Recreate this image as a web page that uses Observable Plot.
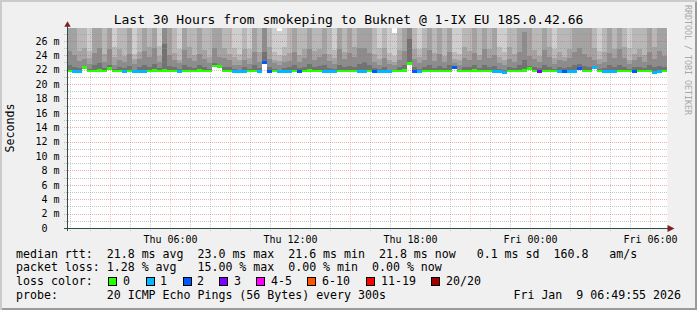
<!DOCTYPE html>
<html><head><meta charset="utf-8">
<script src="https://cdn.jsdelivr.net/npm/d3@7"></script>
<script src="https://cdn.jsdelivr.net/npm/@observablehq/plot@0.6"></script>
<style>
html,body{margin:0;padding:0;background:#f0f0f0;}
#chart{position:relative;width:697px;height:310px;background:#f0f0f0;overflow:hidden;font-family:"DejaVu Sans Mono",monospace;color:#000;}
#chart .shade{position:absolute;left:0;top:0;width:697px;height:310px;box-shadow:inset 2px 2px 0 #cbcbcb, inset -2px -2px 0 #9a9a9a;}
#chart svg{position:absolute;left:0;top:0;}
.t{position:absolute;white-space:pre;line-height:1;font-size:11.6px;}
.box{position:absolute;width:9px;height:9px;box-sizing:border-box;border:1px solid #000;}
</style>
</head><body><div id="chart"><div class="shade"></div></div>
<script>
// ---- data (15-minute columns, 30 hours) ----
const medianRtt = [
21.8,21.7,21.7,22.3,21.8,21.8,21.9,21.8,22.2,21.8,
21.8,21.7,21.8,21.7,21.7,21.7,21.8,21.9,21.8,21.9,
21.8,21.8,21.7,21.8,21.8,21.8,21.9,21.8,21.8,22.5,
22.4,21.8,21.8,21.7,21.7,21.7,21.8,21.8,21.7,23.0,
21.7,21.8,21.7,21.7,21.7,21.8,21.7,21.8,21.9,21.8,
21.8,21.7,21.7,21.7,21.8,21.8,21.8,21.8,21.7,21.7,
21.8,21.7,21.7,21.7,21.7,21.8,21.8,21.9,22.8,21.7,
21.7,21.8,21.8,21.8,21.8,21.8,21.8,22.3,21.8,21.8,
21.8,21.9,21.8,21.8,21.8,21.7,21.7,21.6,21.8,21.8,
21.8,21.9,22.1,21.8,21.7,21.8,21.8,21.8,21.7,21.7,
21.7,21.7,22.2,21.8,21.8,22.3,21.8,21.7,21.7,21.7,
21.8,21.8,21.8,21.7,21.8,21.8,21.8,21.6,21.7,21.8];
const lostPings = [
0,1,1,0,0,0,0,0,0,0,
0,1,0,1,1,1,0,0,0,0,
0,0,1,0,0,0,0,0,0,0,
0,0,0,1,1,1,0,0,1,2,
2,0,1,1,1,0,2,0,0,0,
0,1,1,1,0,0,0,0,1,1,
0,2,1,1,1,0,0,0,0,2,
1,0,0,0,0,0,0,2,0,0,
0,0,0,0,0,1,1,1,0,0,
0,0,0,0,3,0,0,0,1,2,
1,1,2,0,0,1,0,1,1,1,
0,0,0,2,0,0,0,1,1,0];
// sorted ping ranks (upper half of 20 pings), ms
const ping20 = [
33.1,34.0,30.6,31.2,29.4,32.5,35.2,30.9,33.8,29.1,
31.5,30.2,33.0,28.9,31.8,32.7,30.4,34.6,29.6,36.0,
32.2,30.8,29.3,33.4,31.0,30.5,32.9,31.3,30.7,34.1,
32.6,31.1,30.3,29.2,28.8,31.6,29.5,33.2,30.9,35.5,
31.4,28.7,27.3,29.0,30.6,32.4,31.2,30.1,33.6,30.8,
31.7,32.8,30.4,29.3,33.1,31.0,32.3,30.5,33.9,34.2,
32.1,30.7,29.4,31.5,28.9,27.1,30.9,32.6,37.0,31.2,
29.2,30.6,33.3,31.4,32.5,30.3,32.0,29.6,28.8,31.1,
30.8,33.5,31.3,32.2,30.5,33.0,29.1,28.9,31.6,30.4,
32.7,35.8,33.2,31.0,30.2,32.4,30.9,29.5,31.3,30.6,
30.1,33.4,34.0,32.8,33.1,31.2,29.3,30.7,32.9,31.5,
33.6,30.4,29.2,31.8,30.5,31.1,32.3,30.8,33.5,32.0];
const ping18 = [
30.2,31.0,28.9,29.4,24.6,29.7,31.8,28.4,30.5,25.1,
29.0,28.6,30.1,24.2,29.3,29.9,28.7,31.4,25.3,33.5,
29.8,28.5,24.8,30.4,29.1,28.8,30.0,29.2,28.3,31.2,
29.6,28.9,28.4,25.0,24.1,29.5,24.9,30.3,28.7,32.4,
29.2,24.4,24.0,25.2,28.6,30.7,29.0,28.5,31.1,28.8,
29.4,30.0,28.6,24.7,30.6,28.9,29.7,28.4,31.0,31.5,
29.9,28.7,25.0,29.1,24.3,23.9,28.8,30.2,34.0,29.0,
24.8,28.4,30.5,29.3,29.8,28.5,30.1,24.5,24.2,28.9,
28.6,30.9,29.0,29.6,28.7,30.3,25.1,24.4,29.4,28.5,
30.0,32.8,30.6,28.8,28.4,29.9,28.7,24.9,29.2,28.6,
28.5,30.8,31.2,30.1,30.4,29.0,24.6,28.9,30.2,29.3,
30.9,28.6,25.0,29.5,28.7,29.1,29.8,28.8,30.7,29.6];
const ping16 = [
28.4,29.1,24.6,25.0,23.6,28.2,29.6,24.1,28.7,23.8,
24.9,23.9,28.3,23.5,24.4,28.5,25.2,29.3,23.9,31.0,
28.6,24.3,23.4,28.9,25.1,24.0,28.4,24.7,23.8,29.0,
28.2,25.0,24.2,23.7,23.3,24.8,23.6,28.8,24.5,30.2,
25.1,23.4,23.2,23.9,24.3,28.7,24.0,24.9,29.2,24.6,
24.8,28.3,24.1,23.6,28.9,24.4,28.5,25.2,29.4,29.1,
28.2,24.2,23.5,25.0,23.3,23.1,24.7,28.6,31.5,24.8,
23.7,25.0,28.8,24.3,28.3,23.9,28.9,23.5,23.4,25.1,
24.6,28.4,24.0,28.7,24.9,28.2,23.8,23.3,25.2,24.2,
28.5,30.6,28.3,24.7,23.9,28.9,25.1,23.6,24.4,23.8,
24.9,28.6,29.2,28.4,28.8,25.0,23.5,24.5,28.5,24.8,
28.7,25.2,23.4,24.1,24.9,24.0,28.3,25.1,28.6,28.4];
const ping14 = [
24.6,24.0,23.2,23.5,22.8,24.3,25.0,23.0,24.8,22.7,
23.4,23.0,24.2,22.8,23.5,24.6,23.7,25.0,23.0,29.4,
24.0,23.3,22.9,24.7,23.6,23.2,24.1,23.5,22.9,25.0,
23.8,23.6,23.4,22.7,22.6,23.3,22.8,24.4,23.1,28.6,
23.5,22.9,22.6,23.0,23.2,24.5,23.0,23.6,24.9,23.4,
23.7,24.1,23.2,22.8,24.8,23.5,24.3,23.8,25.0,25.0,
24.3,23.1,22.7,23.6,22.8,22.6,23.3,24.6,29.8,23.5,
22.9,23.4,24.7,23.2,24.2,23.0,24.5,22.9,22.7,23.6,
23.3,24.3,23.4,24.8,23.6,24.0,22.9,22.6,23.5,23.1,
24.4,27.2,23.9,23.5,23.0,24.7,23.7,22.8,23.3,23.2,
23.6,24.5,25.0,24.1,23.8,23.4,22.8,23.1,24.3,23.6,
24.8,23.6,22.8,23.3,23.7,23.1,24.4,23.5,24.6,23.9];
const ping12 = [
22.6,22.4,22.2,22.5,22.1,22.7,22.9,22.2,22.6,22.1,
22.3,22.2,22.5,22.0,22.4,22.6,22.3,22.8,22.2,25.6,
22.5,22.3,22.1,22.7,22.4,22.2,22.6,22.3,22.1,22.9,
22.6,22.4,22.3,22.1,22.0,22.3,22.1,22.7,22.2,24.4,
22.3,22.1,22.0,22.2,22.3,22.6,22.2,22.4,22.8,22.3,
22.5,22.6,22.2,22.1,22.7,22.3,22.5,22.4,22.8,23.0,
22.6,22.2,22.1,22.4,22.0,22.0,22.3,22.6,26.2,22.4,
22.1,22.3,22.7,22.2,22.5,22.2,22.6,22.1,22.0,22.4,
22.3,22.6,22.2,22.7,22.4,22.5,22.1,22.0,22.3,22.2,
22.6,23.4,22.5,22.3,22.2,22.6,22.4,22.1,22.3,22.2,
22.4,22.6,22.8,22.5,22.4,22.3,22.1,22.2,22.6,22.3,
22.7,22.4,22.1,22.3,22.4,22.2,22.6,22.3,22.5,22.4];
const lossLabels = ["0","1","2","3","4-5","6-10","11-19","20/20"];
const yTicks = [0,2,4,6,8,10,12,14,16,18,20,22,24,26];
const xTickTimes = ["2026-01-08T06:00Z","2026-01-08T12:00Z","2026-01-08T18:00Z","2026-01-09T00:00Z","2026-01-09T06:00Z"];
const xTickLabels = ["Thu 06:00","Thu 12:00","Thu 18:00","Fri 00:00","Fri 06:00"];
const titleText = "Last 30 Hours from smokeping to Buknet @ 1-IX EU 185.0.42.66";
const legendRows = [
  "median rtt:  21.8 ms avg  23.0 ms max  21.6 ms min  21.8 ms now   0.1 ms sd  160.8   am/s",
  "packet loss: 1.28 % avg   15.00 % max  0.00 % min  0.00 % now",
  "loss color:",
  "probe:       20 ICMP Echo Pings (56 Bytes) every 300s"
];
const stampText = "Fri Jan  9 06:49:55 2026";

// ---- styling ----
const lossColors = ["#26ff00","#00b8ff","#0059ff","#7e00ff","#ff00ff","#ff5500","#ff0000","#a10000"];
const smokeBands = [["p20","#cecece"],["p18","#b8b8b8"],["p16","#a3a3a3"],["p14","#8c8c8c"],["p12","#727272"]];

const MIN = 60000, HOUR = 3600000, STEP = 15*MIN;
const t0 = Date.UTC(2026,0,8,0,51);
const xStart = new Date(t0), xEnd = new Date(t0 + 30*HOUR);
const yMax = 200/7.2;

function lossBucket(n){
  if (n===0) return "0"; if (n===1) return "1"; if (n===2) return "2"; if (n===3) return "3";
  if (n<=5) return "4-5"; if (n<=10) return "6-10"; if (n<=19) return "11-19"; return "20/20";
}
const rows = medianRtt.map((m,i)=>({
  t1:new Date(t0+i*STEP), t2:new Date(t0+(i+1)*STEP), median:m, loss:lossBucket(lostPings[i]),
  p20:ping20[i], p18:ping18[i], p16:ping16[i], p14:ping14[i], p12:ping12[i]
}));
const hours = d3.utcHours(xStart, xEnd);
const minorH = hours.filter(d=>d.getUTCHours()%3!==0);
const majorH = hours.filter(d=>d.getUTCHours()%3===0);
const minorV = d3.range(1,28).filter(v=>v%2===1);
const majorV = d3.range(2,28,2);
const tickDates = xTickTimes.map(s=>new Date(s));
const leftExt = new Date(t0 - 9*MIN);

const grid = (data, dir, color, op) => dir==="x"
  ? Plot.ruleX(data, {y1:-0.42, y2:yMax, stroke:color, strokeOpacity:op, strokeDasharray:"1,1"})
  : Plot.ruleY(data, {x1:leftExt, x2:xEnd, stroke:color, strokeOpacity:op, strokeDasharray:"1,1", shapeRendering:"crispEdges"});

const rightArrow = {draw(ctx){ ctx.moveTo(-3,-3.5); ctx.lineTo(4,0); ctx.lineTo(-3,3.5); ctx.closePath(); }};

const svg = Plot.plot({
  width:697, height:310,
  marginLeft:67, marginRight:30, marginTop:28, marginBottom:82,
  style:{background:"none", fontFamily:'"DejaVu Sans Mono", monospace', fontSize:"10px", color:"#000", overflow:"visible"},
  x:{type:"utc", domain:[xStart,xEnd], ticks:tickDates, tickFormat:(d)=>xTickLabels[tickDates.findIndex(t=>+t===+d)], tickSize:0, tickPadding:7, label:null},
  y:{domain:[0,yMax], ticks:yTicks, tickFormat:v=> v===0 ? "0\u00a0\u00a0" : `${v} m`, tickSize:0, tickPadding:8, label:null},
  color:{type:"ordinal", domain:lossLabels, range:lossColors},
  marks:[
    Plot.frame({fill:"white", stroke:"none"}),
    ...smokeBands.map(([k,c])=>Plot.rect(rows,{x1:"t1", x2:"t2", y1:d=>d.median-0.1, y2:k, fill:c, clip:true, shapeRendering:"crispEdges"})),
    grid(minorH,"x","#8f8f8f",0.45),
    grid(minorV,"y","#8f8f8f",0.5),
    grid(majorH,"x","#de5050",0.3),
    grid(majorV,"y","#de5050",0.45),
    Plot.rect(rows,{x1:"t1", x2:"t2", y1:d=>d.median-0.2, y2:d=>d.median+0.2, fill:"loss", shapeRendering:"crispEdges"}),
    Plot.ruleY([0],{x1:leftExt, x2:new Date(+xEnd + 15*MIN), stroke:"#2c4d43"}),
    Plot.ruleX([xStart],{y1:-0.42, y2:28.4, stroke:"#2c4d43"}),
    Plot.dot([0],{frameAnchor:"top-left", dy:-3.5, symbol:"triangle", r:2.4, fill:"#7f1f1f", stroke:"none"}),
    Plot.dot([0],{frameAnchor:"bottom-right", dx:3, symbol:rightArrow, r:3, fill:"#7f1f1f", stroke:"none"})
  ]
});
const chart = document.getElementById("chart");
chart.appendChild(svg);

function addText(txt, left, baseline, size, extra){
  const el = document.createElement("div");
  el.className = "t";
  el.textContent = txt;
  el.style.fontSize = size+"px";
  el.style.left = left+"px";
  el.style.top = (baseline - 0.846*size)+"px";
  if (extra) Object.assign(el.style, extra);
  chart.appendChild(el);
  return el;
}
addText(titleText, 0, 24.3, 13, {width:"697px", textAlign:"center"});
const baselines = [258.5, 272.2, 286, 299.7];
legendRows.forEach((r,i)=>addText(r, 16, baselines[i], 11.6));
addText(stampText, 0, baselines[3], 11.6, {left:"auto", right:"16px"});
const boxX = [108,146,183,219,256,307,366,431];
const labX = [123,160,197,234,271,322,381,446];
lossLabels.forEach((l,i)=>{
  const b = document.createElement("div");
  b.className = "box";
  b.style.left = boxX[i]+"px"; b.style.top = "277px";
  b.style.background = lossColors[i];
  chart.appendChild(b);
  addText(l, labX[i], baselines[2], 11.6);
});
addText("Seconds", 0, 0, 11.6, {left:"11px", top:"127.5px", transform:"translate(-50%,-50%) rotate(-90deg)"});
addText("RRDTOOL / TOBI OETIKER", 0, 0, 8.3, {left:"688px", top:"60px", color:"#a8a8a8", transform:"translate(-50%,-50%) rotate(90deg)"});
</script>
</body></html>
